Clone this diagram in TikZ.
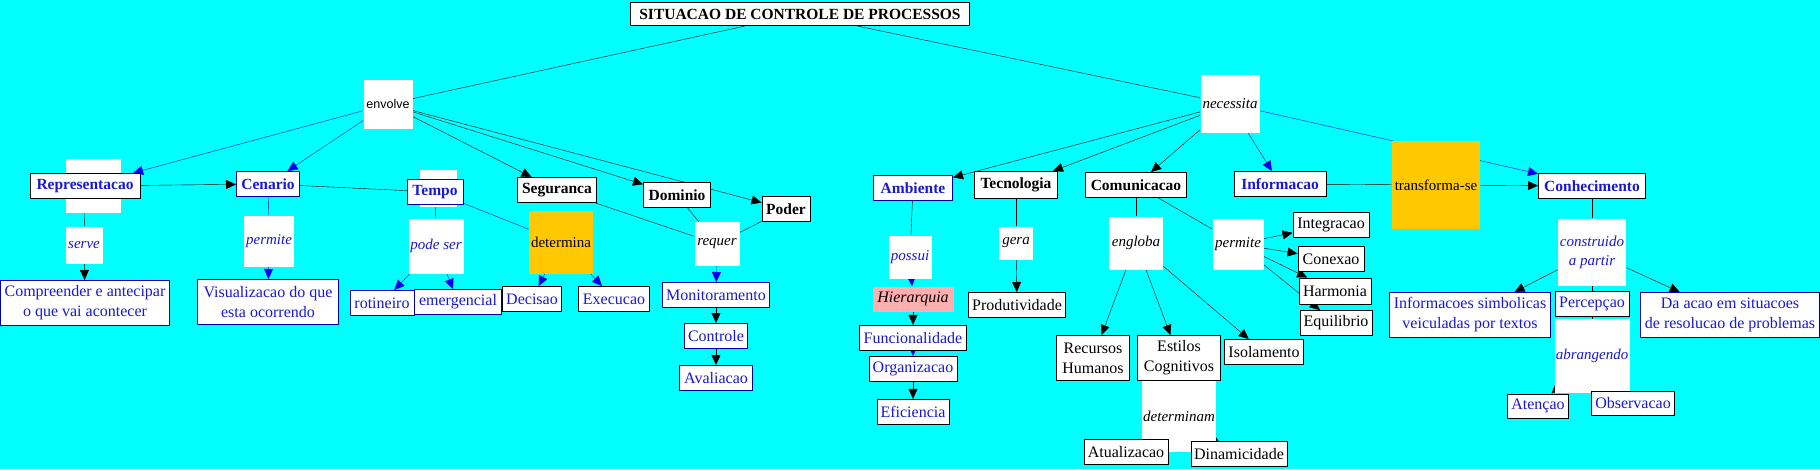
\documentclass[tikz,border=0pt]{standalone}
\usepackage{fontspec}
\setmainfont{Liberation Serif}
\newfontfamily\arialfont{Liberation Sans}
\usepackage{tikz}
\usetikzlibrary{arrows.meta, positioning, backgrounds}
\definecolor{MapCyan}{RGB}{0,255,255}
\definecolor{MapBlue}{RGB}{25,25,205}
\definecolor{MapEdge}{RGB}{0,0,170}
\definecolor{MapLine}{RGB}{0,0,240}
\definecolor{MapOrange}{RGB}{255,200,0}
\definecolor{MapPink}{RGB}{255,175,175}

\begin{document}
\begin{tikzpicture}[x=1pt, y=-1pt, line width=0.8pt, >={Triangle[length=10pt, width=9pt]},
  conceito/.style={draw, fill=white, line width=1pt, inner sep=1pt, minimum height=25pt,
                   align=center, font=\fontsize{16}{20}\selectfont},
  conceitoazul/.style={conceito, draw=MapEdge, text=MapBlue},
  textoazul/.style={conceito, text=MapBlue},
  negrito/.style={font=\fontsize{15.5}{19}\selectfont\bfseries},
  frase/.style={fill=white, inner sep=1pt, align=center, font=\fontsize{15}{19}\selectfont\itshape},
  fraseazul/.style={frase, text=MapBlue},
  laranja/.style={fill=MapOrange, inner sep=1pt, font=\fontsize{15}{19}\selectfont},
  vazio/.style={fill=white, inner sep=0pt}]
  \useasboundingbox (0,0) rectangle (1820,469);

  \node[conceito, negrito, minimum width=339pt, minimum height=23pt] (titulo) at (800,14)
    {SITUACAO DE CONTROLE DE PROCESSOS};
  \node[frase, font=\fontsize{12.5}{15}\arialfont, minimum width=49pt, minimum height=49pt]
    (envolve) at (388,104) {envolve};
  \node[vazio, minimum width=55pt, minimum height=54pt] (repvazio) at (93,186) {};
  \node[textoazul, negrito, minimum width=110pt] (representacao) at (85,186) {Representacao};
  \node[conceitoazul, negrito, minimum width=63pt] (cenario) at (268,184) {Cenario};
  \node[vazio, minimum width=37pt, minimum height=37pt] (tempovazio) at (438,188) {};
  \node[conceitoazul, negrito, minimum width=56pt] (tempo) at (435,192) {Tempo};
  \node[conceito, negrito, minimum width=79pt] (seguranca) at (557,190) {Seguranca};
  \node[conceito, negrito, minimum width=67pt] (dominio) at (677,195) {Dominio};
  \node[conceito, negrito, minimum width=48pt] (poder) at (786,209) {Poder};

  \node[fraseazul, minimum width=37pt, minimum height=37pt] (serve) at (84,245) {serve};
  \node[conceitoazul, minimum width=169pt, minimum height=45pt] (compreender) at (85,303)
    {Compreender e antecipar\\o que vai acontecer};
  \node[fraseazul, minimum width=50pt, minimum height=51pt] (permiteA) at (269,241) {permite};
  \node[conceitoazul, minimum width=141pt, minimum height=45pt] (visualizacao) at (268,302)
    {Visualizacao do que\\esta ocorrendo};
  \node[fraseazul, minimum width=55pt, minimum height=55pt] (podeser) at (436,246) {pode ser};
  \node[laranja, minimum width=64pt, minimum height=63pt] (determina) at (561,242) {determina};
  \node[conceitoazul, minimum width=64pt] (rotineiro) at (382,303) {rotineiro};
  \node[conceitoazul, minimum width=87pt] (emergencial) at (458,302) {emergencial};
  \node[textoazul, minimum width=59pt] (decisao) at (532,299) {Decisao};
  \node[textoazul, minimum width=71pt] (execucao) at (614,299) {Execucao};
  \node[frase, minimum width=45pt, minimum height=44pt] (requer) at (717,244) {requer};
  \node[conceitoazul, minimum width=107pt] (monitoramento) at (716,295) {Monitoramento};
  \node[conceitoazul, minimum width=63pt, below=15pt of monitoramento] (controle) {Controle};
  \node[conceitoazul, minimum width=73pt, below=16pt of controle] (avaliacao) {Avaliacao};

  \node[frase, minimum width=59pt, minimum height=58pt] (necessita) at (1230,104) {necessita};
  \node[conceitoazul, negrito, minimum width=79pt] (ambiente) at (913,188) {Ambiente};
  \node[conceito, negrito, minimum width=83pt, minimum height=27pt] (tecnologia) at (1016,185) {Tecnologia};
  \node[conceito, negrito, minimum width=101pt] (comunicacao) at (1136,185) {Comunicacao};
  \node[textoazul, negrito, minimum width=92pt] (informacao) at (1280,184) {Informacao};
  \node[laranja, minimum width=88pt, minimum height=88pt] (transforma) at (1436,185) {transforma-se};
  \node[textoazul, negrito, minimum width=107pt] (conhecimento) at (1592,186) {Conhecimento};
  \node[fraseazul, minimum width=43pt, minimum height=43pt] (possui) at (910,257) {possui};
  \node[fill=MapPink, inner sep=1pt, minimum width=81pt, minimum height=25pt,
        font=\fontsize{16}{20}\selectfont\itshape] (hierarquia) at (913,299) {Hierarquia};
  \node[textoazul, minimum width=107pt, below=13pt of hierarquia] (funcionalidade) {Funcionalidade};
  \node[textoazul, minimum width=88pt, below=5pt of funcionalidade] (organizacao) {Organizacao};
  \node[textoazul, minimum width=72pt, below=17pt of organizacao] (eficiencia) {Eficiencia};
  \node[frase, minimum width=34pt, minimum height=33pt] (gera) at (1016,243) {gera};
  \node[conceito, minimum width=97pt] (produtividade) at (1017,305) {Produtividade};
  \node[frase, minimum width=54pt, minimum height=53pt] (engloba) at (1136,243) {engloba};
  \node[frase, minimum width=51pt, minimum height=51pt] (permiteB) at (1238,244) {permite};
  \node[conceito, minimum width=73pt, minimum height=45pt] (recursos) at (1093,358) {Recursos\\Humanos};
  \node[conceito, minimum width=83pt, minimum height=45pt] (estilos) at (1179,358) {Estilos\\Cognitivos};
  \node[conceito, minimum width=79pt] (isolamento) at (1264,352) {Isolamento};
  \node[frase, minimum width=74pt, minimum height=71pt] (determinam) at (1179,416) {determinam};
  \node[conceito, minimum width=84pt] (atualizacao) at (1126,452) {Atualizacao};
  \node[conceito, minimum width=96pt] (dinamicidade) at (1239,454) {Dinamicidade};
  \node[conceito, minimum width=76pt] (integracao) at (1331,225) {Integracao};
  \node[conceito, minimum width=66pt] (conexao) at (1331,259) {Conexao};
  \node[conceito, minimum width=72pt, minimum height=26pt] (harmonia) at (1335,291) {Harmonia};
  \node[conceito, minimum width=72pt] (equilibrio) at (1336,323) {Equilibrio};
  \node[fraseazul, minimum width=68pt, minimum height=67pt] (construido) at (1592,252) {construido\\a partir};
  \node[conceitoazul, minimum width=161pt, minimum height=45pt] (simbolicas) at (1470,315)
    {Informacoes simbolicas\\veiculadas por textos};
  \node[textoazul, minimum width=74pt] (percepcao) at (1592,304) {Percepçao};
  \node[conceitoazul, minimum width=179pt, minimum height=45pt] (daacao) at (1730,315)
    {Da acao em situacoes\\de resolucao de problemas};
  \node[fraseazul, minimum width=75pt, minimum height=74pt] (abrangendo) at (1592,356) {abrangendo};
  \node[textoazul, minimum width=61pt, minimum height=24pt] (atencao) at (1538,406) {Atençao};
  \node[textoazul, minimum width=83pt, minimum height=24pt] (observacao) at (1633,403) {Observacao};

  \begin{scope}[on background layer]
    \fill[MapCyan] (0,0) rectangle (1820,469);
    \draw (titulo) -- (envolve);
    \draw (titulo) -- (necessita);
    \draw[->, MapLine] (envolve) -- (representacao);
    \draw[->, MapLine] (envolve) -- (cenario);
    \draw[->] (envolve) -- (seguranca);
    \draw[->] (envolve) -- (dominio);
    \draw[->] (envolve) -- (poder);
    \draw[->] (representacao) -- (cenario);
    \draw (cenario) -- (tempo);
    \draw (representacao) -- (serve);
    \draw[->] (serve) -- (compreender);
    \draw[MapLine] (cenario) -- (permiteA);
    \draw[->, MapLine] (permiteA) -- (visualizacao);
    \draw[MapLine] (tempo) -- (podeser);
    \draw[->, MapLine] (podeser) -- (rotineiro);
    \draw[->, MapLine] (podeser) -- (emergencial);
    \draw[MapLine] (tempo) -- (determina);
    \draw[->, MapLine] (determina) -- (decisao);
    \draw[->, MapLine] (determina) -- (execucao);
    \draw (seguranca) -- (requer);
    \draw (dominio) -- (requer);
    \draw (poder) -- (requer);
    \draw[->, MapLine] (requer) -- (monitoramento);
    \draw[->] (monitoramento) -- (controle);
    \draw[->] (controle) -- (avaliacao);
    \draw[->] (necessita) -- (ambiente);
    \draw[->] (necessita) -- (tecnologia);
    \draw[->] (necessita) -- (comunicacao);
    \draw[->, MapLine] (necessita) -- (informacao);
    \draw[->, MapLine] (necessita) -- (conhecimento);
    \draw (informacao) -- (transforma);
    \draw[->] (transforma) -- (conhecimento);
    \draw (ambiente) -- (possui);
    \draw[->, MapLine] (possui) -- (hierarquia);
    \draw[->] (hierarquia) -- (funcionalidade);
    \draw[->, MapLine] (funcionalidade) -- (organizacao);
    \draw[->] (organizacao) -- (eficiencia);
    \draw (tecnologia) -- (gera);
    \draw[->] (gera) -- (produtividade);
    \draw (comunicacao) -- (engloba);
    \draw[->] (engloba) -- (recursos);
    \draw[->] (engloba) -- (estilos);
    \draw[->] (engloba) -- (isolamento);
    \draw (comunicacao) -- (permiteB);
    \draw[->] (permiteB) -- (integracao);
    \draw[->] (permiteB) -- (conexao);
    \draw[->] (permiteB) -- (harmonia);
    \draw[->] (permiteB) -- (equilibrio);
    \draw (estilos) -- (determinam);
    \draw[->] (determinam) -- (atualizacao);
    \draw[->] (determinam) -- (dinamicidade);
    \draw (conhecimento) -- (construido);
    \draw[->] (construido) -- (simbolicas);
    \draw[->] (construido) -- (daacao);
    \draw (construido) -- (percepcao);
    \draw (percepcao) -- (abrangendo);
    \draw[->] (abrangendo) -- (atencao);
    \draw[->] (abrangendo) -- (observacao);
  \end{scope}
\end{tikzpicture}
\end{document}
